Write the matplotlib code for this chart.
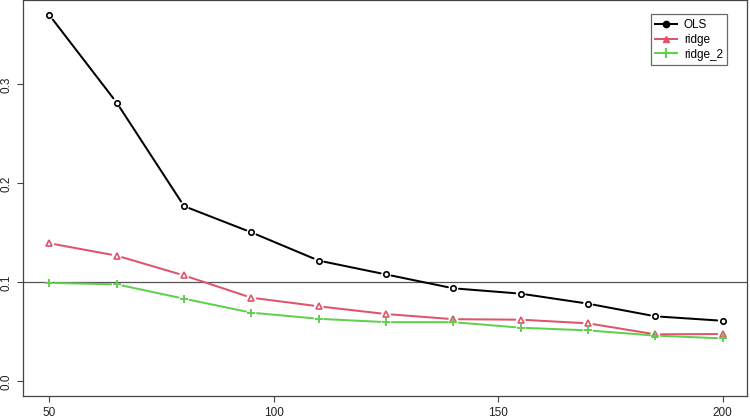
import matplotlib
matplotlib.use("Agg")
import matplotlib.pyplot as plt
from matplotlib.lines import Line2D

plt.rcParams['font.family'] = ['Liberation Sans', 'DejaVu Sans']

x = [50, 65, 80, 95, 110, 125, 140, 155, 170, 185, 200]
ols = [0.370, 0.2815, 0.177, 0.1505, 0.122, 0.108, 0.094, 0.0886, 0.0785, 0.0657, 0.0612]
ridge = [0.1395, 0.127, 0.107, 0.0845, 0.0758, 0.068, 0.0628, 0.0623, 0.0586, 0.0475, 0.0478]
ridge_2 = [0.0995, 0.098, 0.0835, 0.0694, 0.0632, 0.0598, 0.0598, 0.0542, 0.0515, 0.0462, 0.0434]
labels = ["OLS", "ridge", "ridge_2"]
colors = ["black", "#DF536B", "#61D04F"]
plot_markers = ["o", "^", "+"]
legend_markers = ["o", "^", "+"]
hline_value = 0.1
xticks = [50, 100, 150, 200]
yticks = [0.0, 0.1, 0.2, 0.3]

W, H = 750, 419
fig = plt.figure(figsize=(W / 100, H / 100), dpi=100)
left, right, top, bottom = 22.5, 746.5, 0.5, 396
ax = fig.add_axes([left / W, (H - bottom) / H, (right - left) / W, (bottom - top) / H])

ax.set_xlim(44.0, 205.3)
ax.set_ylim(-0.0148, 0.3848)

ax.axhline(hline_value, color="#555555", lw=0.9, zorder=1)

lw = 1.45
gap = 4.0
for series, col, mk in zip([ols, ridge, ridge_2], colors, plot_markers):
    for i in range(len(x) - 1):
        ax.annotate("", xy=(x[i + 1], series[i + 1]), xytext=(x[i], series[i]),
                    arrowprops=dict(arrowstyle="-", color=col, lw=lw,
                                    shrinkA=gap, shrinkB=gap),
                    zorder=2)
    if mk == "+":
        ax.plot(x, series, linestyle="none", marker="+", markersize=6.2,
                markeredgewidth=1.4, color=col, zorder=3)
    elif mk == "^":
        ax.plot(x, series, linestyle="none", marker=mk, markersize=4.6,
                markerfacecolor="none", markeredgewidth=1.2, color=col, zorder=3)
    else:
        ax.plot(x, series, linestyle="none", marker=mk, markersize=3.9,
                markerfacecolor="none", markeredgewidth=1.2, color=col, zorder=3)

ax.set_xticks(xticks)
ax.set_xticklabels([str(v) for v in xticks])
ax.set_yticks(yticks)
ax.set_yticklabels([f"{v:.1f}" for v in yticks], rotation=90, va="center")
ax.tick_params(axis="both", direction="out", length=4.5, width=0.8, color="#444444",
               labelsize=8.5, labelcolor="#222222")
ax.tick_params(axis="x", pad=3.5)
ax.tick_params(axis="y", pad=3)
for s in ax.spines.values():
    s.set_color("#444444")
    s.set_linewidth(0.9)

handles = []
for lab, col, mk in zip(labels, colors, legend_markers):
    if mk == "+":
        h = Line2D([], [], color=col, lw=lw, marker="+", markersize=6.5, markeredgewidth=1.5)
    else:
        h = Line2D([], [], color=col, lw=lw, marker=mk, markersize=4.5)
    handles.append(h)

ax_w = right - left
ax_h = bottom - top
leg = ax.legend(handles, labels, loc="upper right",
                bbox_to_anchor=((727.5 - left) / ax_w, 1 - (14.0 - top) / ax_h),
                borderaxespad=0, fontsize=8.5, frameon=True, fancybox=False,
                edgecolor="#444444", handlelength=1.8, handletextpad=0.6,
                labelspacing=0.25, borderpad=0.4)
leg.get_frame().set_linewidth(0.9)

fig.savefig("out.png", dpi=100)
